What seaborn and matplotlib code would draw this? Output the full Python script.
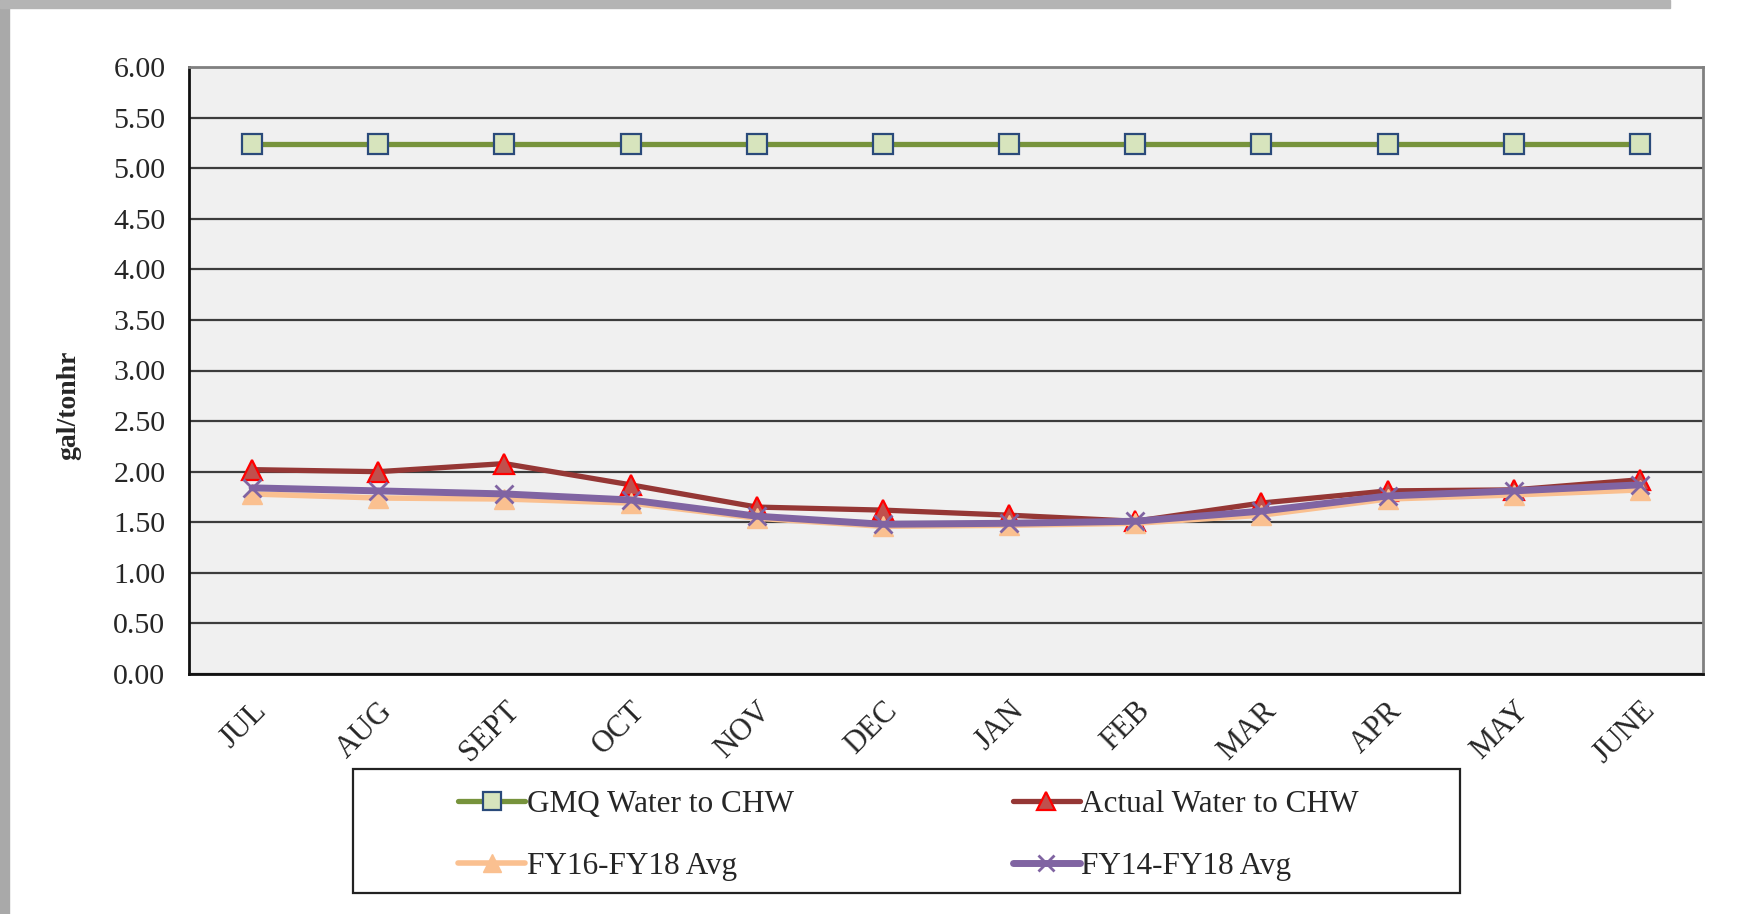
import numpy as np
import pandas as pd
import matplotlib
matplotlib.use("Agg")
import matplotlib.pyplot as plt
import seaborn as sns
from matplotlib.patches import Rectangle

months = ['JUL', 'AUG', 'SEPT', 'OCT', 'NOV', 'DEC', 'JAN', 'FEB', 'MAR', 'APR', 'MAY', 'JUNE']
gmq = [5.24] * 12
actual = [2.02, 2.00, 2.08, 1.87, 1.65, 1.62, 1.57, 1.51, 1.69, 1.81, 1.82, 1.92]
fy16_18 = [1.78, 1.74, 1.73, 1.69, 1.54, 1.46, 1.47, 1.49, 1.57, 1.73, 1.77, 1.82]
fy14_18 = [1.84, 1.81, 1.78, 1.72, 1.56, 1.48, 1.49, 1.51, 1.61, 1.76, 1.81, 1.87]
yticks = [0, 0.5, 1, 1.5, 2, 2.5, 3, 3.5, 4, 4.5, 5, 5.5, 6]

sns.set_style("white")
plt.rcParams['font.family'] = ['Liberation Serif', 'DejaVu Serif']

W, H = 1740, 914
fig = plt.figure(figsize=(W / 100, H / 100), dpi=100)
fig.patch.set_facecolor('white')
# grey window frame of the screenshot
fig.patches.append(Rectangle((0, 0), 9 / W, 1, transform=fig.transFigure, color='#a9a9a9', zorder=0))
fig.patches.append(Rectangle((0, 1 - 8 / H), 1670 / W, 8 / H, transform=fig.transFigure, color='#b4b4b4', zorder=0))

ax = fig.add_axes([189 / W, (H - 674) / H, (1703 - 189) / W, (674 - 67) / H])
ax.set_facecolor('#f0f0f0')

x = np.arange(len(months))
df = pd.DataFrame({'x': x, 'gmq': gmq, 'actual': actual, 'fy16': fy16_18, 'fy14': fy14_18})

sns.lineplot(data=df, x='x', y='gmq', ax=ax, color='#77933c', lw=3.8, marker='s', ms=15,
             mfc='#d7e4bd', mec='#2a4a7a', mew=1.6, label='GMQ Water to CHW', zorder=3)
sns.lineplot(data=df, x='x', y='actual', ax=ax, color='#953735', lw=3.8, marker='^', ms=15,
             mfc='#c0504d', mec='#ff0000', mew=1.6, label='Actual Water to CHW', zorder=4)
sns.lineplot(data=df, x='x', y='fy16', ax=ax, color='#fac090', lw=4, marker='^', ms=15,
             mfc='#fac090', mec='#fac090', mew=1, label='FY16-FY18 Avg', zorder=5)
sns.lineplot(data=df, x='x', y='fy14', ax=ax, color='#8064a2', lw=5, marker='x', ms=13,
             mec='#8064a2', mew=2, label='FY14-FY18 Avg', zorder=6)

ax.set_xlim(-0.5, len(months) - 0.5)
ax.set_ylim(0, 6)
ax.set_yticks(yticks)
ax.set_yticklabels([f'{v:.2f}' for v in yticks], fontsize=21.5)
ax.set_xticks(x)
ax.set_xticklabels(months, fontsize=22, rotation=45, ha='right', rotation_mode='anchor')
ax.set_xticks(np.arange(-0.5, len(months), 1), minor=True)
ax.tick_params(axis='x', which='major', length=0, pad=16)
ax.tick_params(axis='x', which='minor', length=9, width=2, color='#222222', direction='out')
ax.tick_params(axis='y', length=9, width=2, color='#222222', direction='out', pad=8)
ax.grid(axis='y', color='#3c3c3c', lw=1.6)
ax.set_axisbelow(True)
for s in ['left', 'bottom']:
    ax.spines[s].set_color('#111111')
    ax.spines[s].set_linewidth(2)
for s in ['top', 'right']:
    ax.spines[s].set_color('#808080')
    ax.spines[s].set_linewidth(2)

ax.set_xlabel('')
ax.set_ylabel('gal/tonhr', fontsize=20, fontweight='bold')
ax.yaxis.set_label_coords(-0.071, 0.443)

# legend box, filled row by row like the original
ax.get_legend().remove()
handles, labels = ax.get_legend_handles_labels()
order = [0, 2, 1, 3]
fig.patches.append(Rectangle((353 / W, (H - 893) / H), (1460 - 353) / W, (893 - 769) / H,
                             transform=fig.transFigure, fc='white', ec='#222222', lw=1.6, zorder=1))
leg = fig.legend([handles[i] for i in order], [labels[i] for i in order],
                 loc='upper left', bbox_to_anchor=(430 / W, (H - 762) / H),
                 ncol=2, frameon=False, fontsize=22.5, handlelength=2.15, handletextpad=0.05,
                 columnspacing=7.0, labelspacing=1.05, markerscale=0.9)

fig.savefig('out.png', dpi=100)
